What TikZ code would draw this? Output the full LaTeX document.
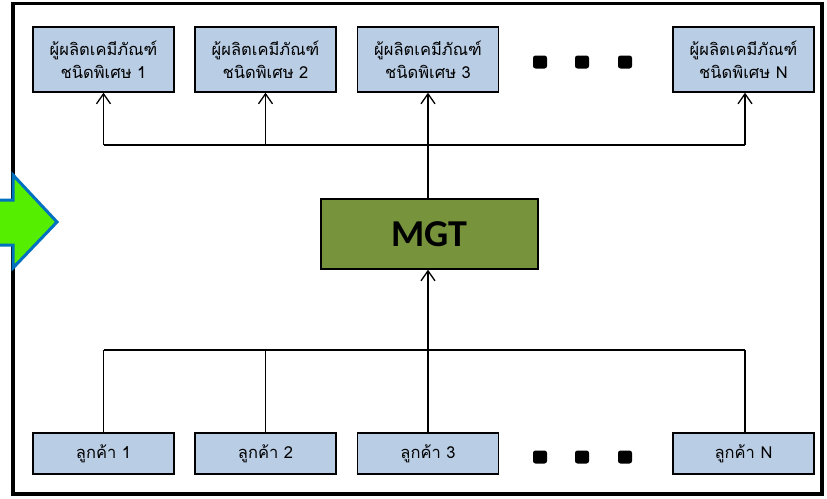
\documentclass[tikz,border=0pt]{standalone}
\usepackage{fontspec}
\newfontfamily\thaifont[Script=Thai]{Loma}
\newfontfamily\calib{Carlito}
\usetikzlibrary{arrows.meta}
\definecolor{boxblue}{HTML}{B9CDE5}
\definecolor{olive}{HTML}{77933C}
\definecolor{greenarrow}{HTML}{55EE00}
\definecolor{bluearrow}{HTML}{0070C0}
\begin{document}
\begin{tikzpicture}[x=1pt,y=-1pt,
  topbox/.style={draw=black,line width=1.4pt,fill=boxblue,minimum width=141pt,minimum height=65pt,inner sep=0pt,align=center,font=\thaifont\fontsize{16.5}{23}\selectfont},
  botbox/.style={draw=black,line width=1.4pt,fill=boxblue,minimum width=141pt,minimum height=41pt,inner sep=0pt,align=center,font=\thaifont\fontsize{16.5}{23}\selectfont},
  mgtbox/.style={draw=black,line width=1.4pt,fill=olive,minimum width=217pt,minimum height=70pt,inner sep=0pt,font=\calib\bfseries\fontsize{38}{42}\selectfont},
  dotsq/.style={fill=black,rounded corners=2.5pt,minimum width=14pt,minimum height=13pt,inner sep=0pt},
  thin/.style={line width=1.3pt},
  thick/.style={line width=2.3pt},
  arr/.style={-{Straight Barb[length=10pt,width=14pt,line width=1.3pt]}}
]
\useasboundingbox (0,0) rectangle (827,498);
\draw[line width=3.5pt] (13,3.5) rectangle (822,494);
% top boxes
\node[topbox] (p1) at (103.5,59.5) {ผู้ผลิตเคมีภัณฑ์\\ชนิดพิเศษ 1};
\node[topbox] (p2) at (265.5,59.5) {ผู้ผลิตเคมีภัณฑ์\\ชนิดพิเศษ 2};
\node[topbox] (p3) at (428,59.5) {ผู้ผลิตเคมีภัณฑ์\\ชนิดพิเศษ 3};
\node[topbox] (pN) at (743.5,59.5) {ผู้ผลิตเคมีภัณฑ์\\ชนิดพิเศษ N};
% bottom boxes
\node[botbox] (c1) at (103.5,453.5) {ลูกค้า 1};
\node[botbox] (c2) at (265.5,453.5) {ลูกค้า 2};
\node[botbox] (c3) at (428,453.5) {ลูกค้า 3};
\node[botbox] (cN) at (743.5,453.5) {ลูกค้า N};
% MGT
\node[mgtbox] (m) at (429.5,234) {MGT};
% dots
\node[dotsq] (d1) at (540,62) {};
\node[dotsq] (d2) at (582,62) {};
\node[dotsq] (d3) at (625,62) {};
\node[dotsq] (e1) at (540,457) {};
\node[dotsq] (e2) at (582,457) {};
\node[dotsq] (e3) at (625,457) {};
% junction coordinates
\coordinate (tj) at (428,145);
\coordinate (bj) at (428,350);
\coordinate (tl) at (103.5,145);
\coordinate (tr) at (745,145);
\coordinate (bl) at (103.5,350);
\coordinate (br) at (745,350);
% top distribution
\draw[thin] (tl) -- (tr);
\draw[thick] (m.north -| tj) -- (tj);
\draw[thin,arr] (tl) -- (p1.south);
\draw[thin,arr] (tl -| p2.south) -- (p2.south);
\draw[thin,arr] (tj) -- (p3.south);
\draw[thin,arr] (tr) -- (tr |- pN.south);
% bottom collection
\draw[thin] (bl) -- (br);
\draw[thin] (c1.north) -- (bl);
\draw[thin] (c2.north) -- (bl -| c2.north);
\draw[thin] (c3.north) -- (bj);
\draw[thin] (br |- cN.north) -- (br);
\draw[thick,arr] (bj) -- (m.south -| bj);
% green arrow
\draw[line width=3pt,draw=bluearrow,fill=greenarrow,line join=miter]
  (-5,200) -- (13,200) -- (13,175) -- (57,222) -- (13,268) -- (13,245) -- (-5,245) -- cycle;
\end{tikzpicture}
\end{document}
